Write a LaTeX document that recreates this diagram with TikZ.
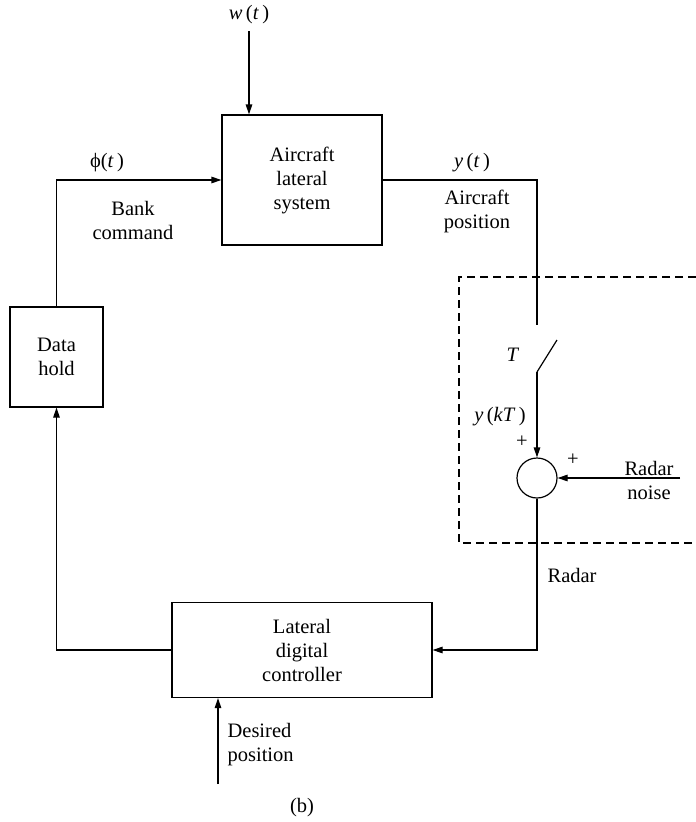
\documentclass[tikz,border=0pt]{standalone}
\usepackage{fontspec}
\setmainfont{Liberation Serif}
\usetikzlibrary{arrows.meta}
\begin{document}
\begin{tikzpicture}[x=1pt,y=-1pt,
  font=\fontsize{20.5}{24}\selectfont,
  line width=1.2pt,
  >={Triangle[length=10pt,width=6.5pt]},
  blk/.style={draw,rectangle,inner sep=0pt,align=center},
  lbl/.style={inner sep=0pt,align=center},
  dashbox/.style={dashed,dash pattern=on 8pt off 5pt,line width=1.1pt}]
\useasboundingbox (0,0) rectangle (696,822);
% blocks
\node[blk,minimum width=160pt,minimum height=130pt] (air) at (302,180) {Aircraft\\lateral\\system};
\node[blk,minimum width=93pt,minimum height=100pt] (hold) at (56.5,357) {Data\\hold};
\node[blk,minimum width=260pt,minimum height=95pt] (ctrl) at (302,650) {Lateral\\digital\\controller};
\node[draw,circle,minimum size=40pt,inner sep=0pt] (sum) at (537,478) {};
% coordinates
\coordinate (wt) at (249,31);
\coordinate (sw1) at (537,325);
\coordinate (sw2) at (537,372);
\coordinate (sw3) at (557,340);
\coordinate (noise) at (680,478);
\coordinate (des) at (218,784);
\coordinate (d1) at (696,277);
\coordinate (d2) at (459,277);
\coordinate (d3) at (459,543);
\coordinate (d4) at (696,543);
% connectors
\draw[->] (wt) -- (wt |- air.north);
\draw[->] (hold.north) |- (air.west);
\draw (air.east) -| (sw1);
\draw (sw2) -- (sw3);
\draw[->] (sw2) -- (sum.north);
\draw[->] (noise) -- (sum.east);
\draw[->] (sum.south) |- (ctrl.east);
\draw[->] (ctrl.west) -| (hold.south);
\draw[->] (des) -- (des |- ctrl.south);
\draw[dashbox] (d1) -- (d2) -- (d3) -- (d4);
% labels
\node[lbl] (lw) at (249,15) {\textit{w}\,(\textit{t}\,)};
\node[lbl] (lphi) at (107,163) {ϕ(\textit{t}\,)};
\node[lbl] (lbank) at (133,220) {Bank\\command};
\node[lbl] (ly) at (472,163) {\textit{y}\,(\textit{t}\,)};
\node[lbl] (lpos) at (477,211) {Aircraft\\position};
\node[lbl] (lT) at (513,355) {\textit{T}};
\node[lbl] (lykt) at (500,417) {\textit{y}\,(\textit{kT}\,)};
\node[lbl] (lp1) at (522,442) {+};
\node[lbl] (lp2) at (573,460) {+};
\node[lbl] (lnoise) at (649,480) {Radar\\noise};
\node[lbl,anchor=west] (lradar) at (547,575) {Radar};
\node[lbl,anchor=west,align=left] (ldes) at (227,745) {Desired\\position};
\node[lbl] (lb) at (302,808) {(b)};
\end{tikzpicture}
\end{document}
